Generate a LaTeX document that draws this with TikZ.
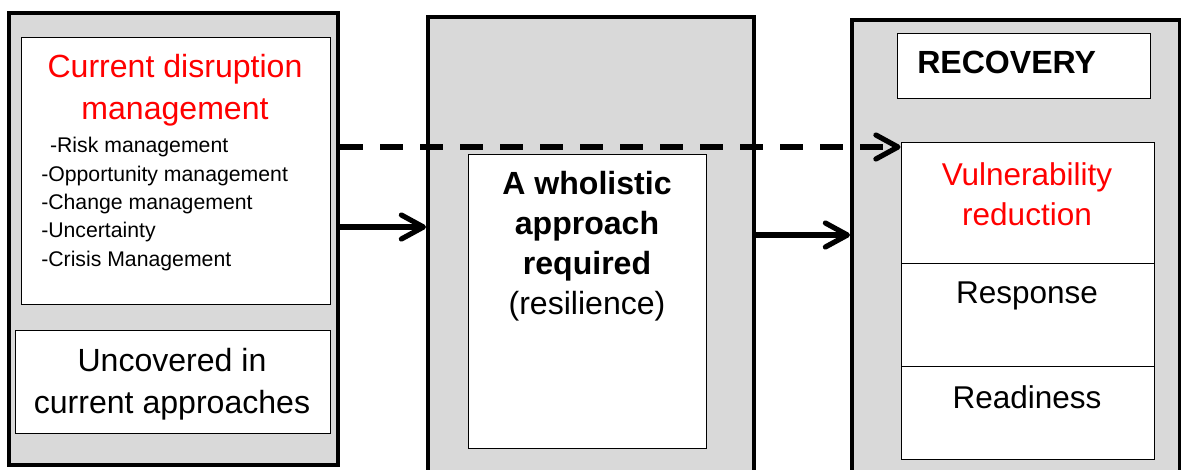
\documentclass[tikz,border=0pt]{standalone}
\usepackage{fontspec}
\setmainfont{Liberation Sans}
\usetikzlibrary{arrows.meta,fit}
\definecolor{panelgrey}{HTML}{D9D9D9}
\definecolor{alertred}{HTML}{FF0000}

\begin{document}
\begin{tikzpicture}[x=0.025cm, y=-0.025cm,
    panel/.style={draw, line width=0.1cm, fill=panelgrey, inner sep=0pt},
    cell/.style={draw, line width=0.7pt, fill=white, inner sep=0pt},
    txt/.style={inner sep=0pt, align=center},
    big/.style={font=\fontsize{22.8}{29.9}\selectfont},
    link/.style={line width=0.13cm, -{Straight Barb[length=0.55cm, width=0.6cm, round]}}]
  \useasboundingbox (0,0) rectangle (1181,469);
  % three panels
  \node[panel, fit={(9,13) (338,465)}] (current) {};
  \node[panel, fit={(428,17) (754,490)}] (approach) {};
  \node[panel, fit={(852,20) (1180,490)}] (recovery) {};
  % cells
  \node[cell, fit={(21,37) (330,304)}] (disruption) {};
  \node[cell, fit={(15,330) (330,433)}] (uncovered) {};
  \node[cell, fit={(468,154) (706,448)}] (wholistic) {};
  \node[cell, fit={(897,33) (1150,98)}] (recoverytitle) {};
  \node[cell, fit={(901,142) (1154,263)}] (vulnerability) {};
  \node[cell, fit={(901,263) (1154,366)}] (response) {};
  \node[cell, fit={(901,366) (1154,459)}] (readiness) {};
  % texts
  \node[txt, big, text=alertred] (disruptiontext) at (175,90) {Current disruption\\management};
  \node[txt, align=left, anchor=west, font=\fontsize{15.1}{20.1}\selectfont] (disruptionlist) at (41,204)
    {\hspace*{0.22cm}-Risk management\\-Opportunity management\\-Change management\\-Uncertainty\\-Crisis Management};
  \node[txt, big] (uncoveredtext) at (172,384) {Uncovered in\\current approaches};
  \node[txt, font=\fontsize{22.8}{28.5}\selectfont] (wholistictext) at (587,246)
    {\textbf{A wholistic}\\\textbf{approach}\\\textbf{required}\\(resilience)};
  \node[txt, anchor=west, font=\fontsize{22.8}{29.9}\selectfont\bfseries] (recoverytext) at (917,62) {RECOVERY};
  \node[txt, text=alertred, font=\fontsize{22.4}{28.5}\selectfont] (vulnerabilitytext) at (1027,194) {Vulnerability\\reduction};
  \node[txt, font=\fontsize{22.4}{28.5}\selectfont] (responsetext) at (1027,296) {Response};
  \node[txt, font=\fontsize{22.4}{28.5}\selectfont] (readinesstext) at (1027,397) {Readiness};
  % connectors
  \coordinate (dashlevel) at (0,147);
  \coordinate (firstlevel) at (0,227);
  \coordinate (secondlevel) at (0,235);
  \draw[link, dash pattern=on 0.57cm off 0.43cm] (current.east |- dashlevel) -- (vulnerability.west |- dashlevel);
  \draw[link] (current.east |- firstlevel) -- (approach.west |- firstlevel);
  \draw[link] (approach.east |- secondlevel) -- (recovery.west |- secondlevel);
\end{tikzpicture}
\end{document}
